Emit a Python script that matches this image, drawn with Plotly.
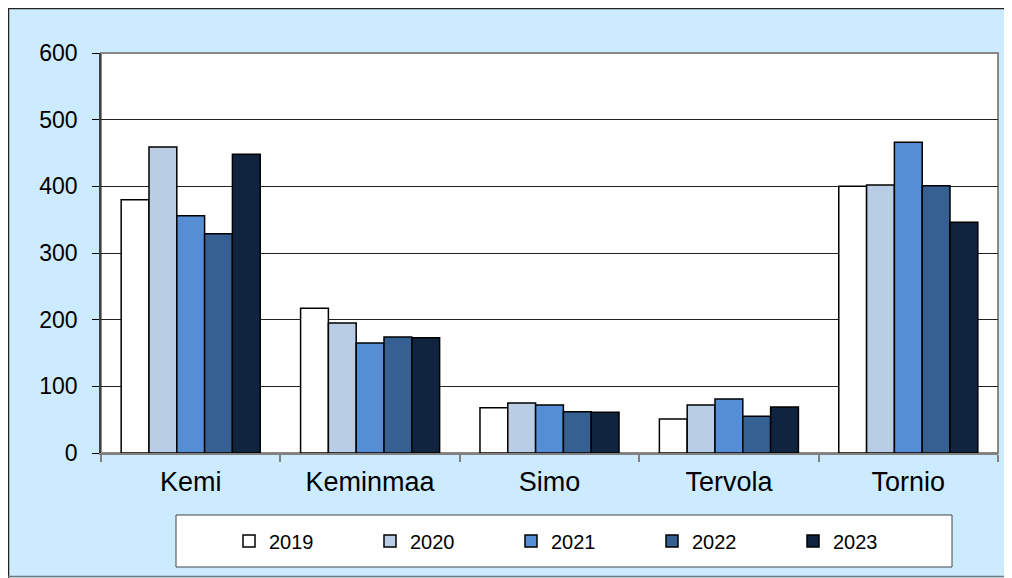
import plotly.graph_objects as go

municipalities = ["Kemi", "Keminmaa", "Simo", "Tervola", "Tornio"]
years = ["2019", "2020", "2021", "2022", "2023"]
values_2019 = [380, 217, 68, 51, 400]
values_2020 = [459, 195, 75, 72, 402]
values_2021 = [356, 165, 72, 81, 466]
values_2022 = [329, 174, 62, 55, 401]
values_2023 = [448, 173, 61, 69, 346]
series = [values_2019, values_2020, values_2021, values_2022, values_2023]
colors = ["#FFFFFF", "#B9CDE5", "#558ED5", "#376092", "#10243F"]

fig = go.Figure()
for yr, vals, col in zip(years, series, colors):
    fig.add_trace(go.Bar(
        x=municipalities, y=vals, name=yr,
        marker=dict(color=col, line=dict(color="#000000", width=1.5)),
    ))

# page body has an 8px margin; figure coordinates = screen - 8
OFF = 8
W, H = 1004, 570
L, R, T, B = 101 - OFF, W - (998 - OFF), 53 - OFF, H - (453 - OFF)
pw, ph = W - L - R, H - T - B

def px_x(p):
    return (p - OFF - L) / pw

def px_y(p):
    return (H - B - (p - OFF)) / ph

shapes = [
    # outer panel border: top, left (dark) and bottom (grey)
    dict(type="line", xref="paper", yref="paper", layer="below",
         x0=px_x(8), x1=px_x(1012), y0=px_y(8.5), y1=px_y(8.5),
         line=dict(color="#222222", width=1.5)),
    dict(type="line", xref="paper", yref="paper", layer="below",
         x0=px_x(8.5), x1=px_x(8.5), y0=px_y(8), y1=px_y(578),
         line=dict(color="#222222", width=1.5)),
    dict(type="line", xref="paper", yref="paper", layer="below",
         x0=px_x(8), x1=px_x(1012), y0=px_y(576.5), y1=px_y(576.5),
         line=dict(color="#777777", width=1.5)),
    # plot area
    dict(type="rect", xref="paper", yref="paper", layer="below",
         x0=0, x1=1, y0=0, y1=1,
         fillcolor="#FFFFFF", line=dict(color="#888888", width=2)),
    # legend box
    dict(type="rect", xref="paper", yref="paper", layer="below",
         x0=px_x(176), x1=px_x(952), y0=px_y(567), y1=px_y(515),
         fillcolor="#FFFFFF", line=dict(color="#444444", width=1)),
]

fig.update_layout(
    width=W, height=H,
    margin=dict(l=L, r=R, t=T, b=B, pad=0),
    paper_bgcolor="#CCEBFF",
    plot_bgcolor="rgba(0,0,0,0)",
    barmode="group",
    bargap=0.225,
    bargroupgap=0,
    font=dict(family="Liberation Sans, Arial, sans-serif", color="#000000"),
    shapes=shapes,
    showlegend=True,
    legend=dict(
        orientation="h",
        x=px_x(229), xanchor="left",
        y=px_y(541), yanchor="middle",
        bgcolor="rgba(0,0,0,0)",
        borderwidth=0,
        font=dict(size=20, color="#000000"),
        entrywidth=96, entrywidthmode="pixels",
        traceorder="normal",
    ),
    xaxis=dict(
        type="category",
        tickson="boundaries",
        ticks="outside", ticklen=7, tickcolor="#808080", tickwidth=1.5,
        showline=True, linecolor="#808080", linewidth=2,
        showgrid=False,
        tickfont=dict(size=27, color="#000000"),
        ticklabelstandoff=4,
    ),
    yaxis=dict(
        range=[0, 600], dtick=100,
        ticks="outside", ticklen=7, tickcolor="#000000", tickwidth=1,
        showline=True, linecolor="#404040", linewidth=1.5,
        showgrid=True, gridcolor="#222222", gridwidth=1,
        zeroline=False,
        tickfont=dict(size=23, color="#000000"),
        ticklabelstandoff=10,
    ),
)

fig.write_html("out.html")
